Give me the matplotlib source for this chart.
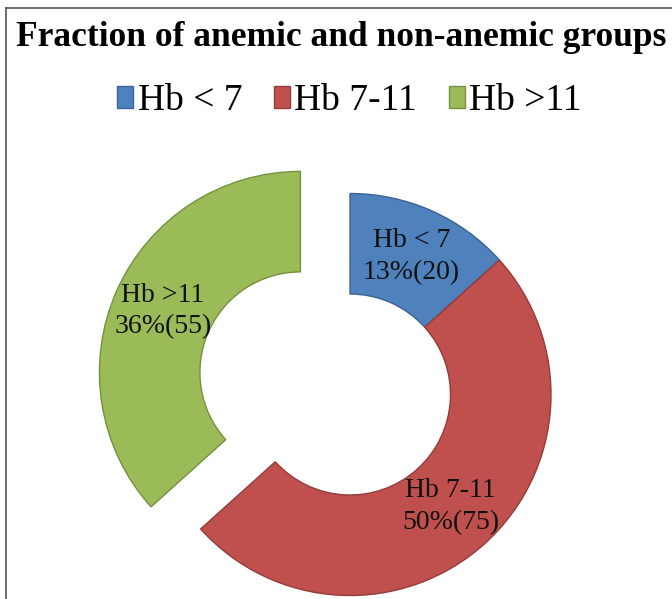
import matplotlib.pyplot as plt
from matplotlib.patches import Patch
from matplotlib.lines import Line2D

plt.rcParams['font.family'] = ['Liberation Serif', 'DejaVu Serif']

labels = ["Hb < 7", "Hb 7-11", "Hb >11"]
values = [20, 75, 55]
pcts = [13, 50, 36]
colors = ["#4F81BD", "#C0504D", "#9BBB59"]
edges = ["#3A6494", "#943C3A", "#76903F"]
explode = [0, 0, 0.27]

fig = plt.figure(figsize=(6.72, 5.99), dpi=100)
ax = fig.add_axes([0, 0, 1, 1])

wedges, texts, autotexts = ax.pie(
    values, explode=explode, colors=colors, startangle=90, counterclock=False,
    radius=1.0, wedgeprops=dict(width=0.5, linewidth=1.0),
    autopct="%d", pctdistance=0.75, textprops=dict(fontsize=20, color="#111111"))
for w, ec in zip(wedges, edges):
    w.set_edgecolor(ec)
for t, lab, p, v in zip(autotexts, labels, pcts, values):
    t.set_text(f"{lab}\n{p}%({v})")
    t.set_linespacing(1.35)

# map 1 unit = 201 px, centre at (350, 394.5) px from top-left
ax.set_xlim(-350 / 201, (672 - 350) / 201)
ax.set_ylim(-(599 - 394.5) / 201, 394.5 / 201)
ax.set_aspect('auto')
ax.axis('off')

fig.text(0.508, 1 - 38 / 599, "Fraction of anemic and non-anemic groups",
         ha='center', va='center', fontsize=25.5, fontweight='bold')

handles = [Patch(facecolor=c, edgecolor=e) for c, e in zip(colors, edges)]
fig.legend(handles, labels, loc='center', bbox_to_anchor=(0.52, 1 - 101 / 599),
           ncol=3, frameon=False, fontsize=27, handlelength=0.42, handleheight=0.5,
           handletextpad=0.12, columnspacing=0.85)

# outer frame (right and bottom edges fall outside the picture)
fig.add_artist(Line2D([6 / 672, 6 / 672], [0, 1 - 8 / 599], color="#555555", lw=1.2))
fig.add_artist(Line2D([6 / 672, 1], [1 - 8 / 599, 1 - 8 / 599], color="#555555", lw=1.2))

fig.savefig("out.png", dpi=100)
